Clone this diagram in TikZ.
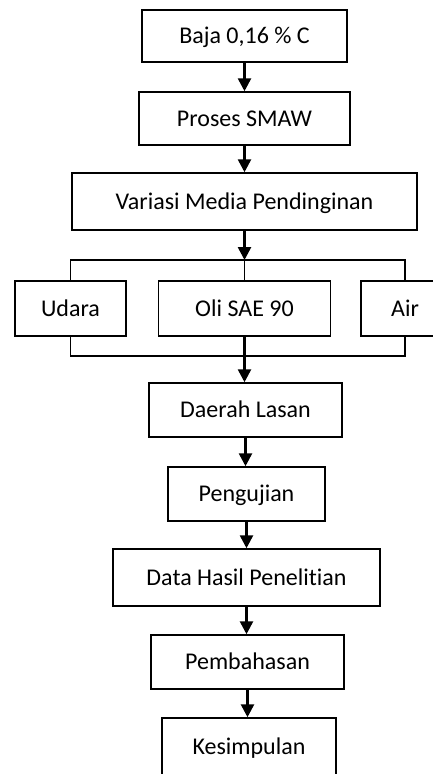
\documentclass[tikz,border=0pt]{standalone}
\usepackage{fontspec}
\setmainfont{Carlito}[Ligatures=NoCommon]
\usetikzlibrary{arrows.meta}

\begin{document}
\begin{tikzpicture}[x=1pt, y=-1pt,
    box/.style={draw, line width=1.5pt, minimum height=#1, inner sep=0pt,
        font=\fontsize{24}{28}\selectfont, text height=15.4pt, text depth=0pt},
    box/.default=54pt,
    flow/.style={line width=2.6pt, -{Triangle[length=13pt, width=13pt]}},
    branch/.style={line width=1.4pt}]
    \useasboundingbox (0,0) rectangle (433,774);
    \clip (0,0) rectangle (433,774);

    \node[box=52pt, minimum width=205pt] (baja) at (244.5,36) {Baja 0,16 \% C};
    \node[box=53pt, minimum width=211pt] (proses) at (244.5,118.5) {Proses SMAW};
    \node[box=57pt, minimum width=345pt] (variasi) at (244.5,201.5) {Variasi Media Pendinginan};

    \node[box=55pt, minimum width=111pt] (udara) at (70.5,308.5) {Udara};
    \node[box=55pt, minimum width=172pt] (oli) at (244.5,308.5) {Oli SAE 90};
    \node[box=55pt, minimum width=88pt] (air) at (405,308.5) {Air};

    \node[box, minimum width=193pt] (daerah) at (245.5,410) {Daerah Lasan};
    \node[box, minimum width=157pt] (pengujian) at (246.5,494) {Pengujian};
    \node[box=57pt, minimum width=267pt] (data) at (246.5,577.5) {Data Hasil Penelitian};
    \node[box, minimum width=193pt] (pembahasan) at (247.5,662) {Pembahasan};
    \node[box=58pt, minimum width=174pt] (kesimpulan) at (249,747) {Kesimpulan};

    \coordinate (split) at (244.5,260);
    \coordinate (join) at (244.5,356);

    \draw[flow] (baja.south) -- (proses.north);
    \draw[flow] (proses.south) -- (variasi.north);
    \draw[flow] (variasi.south) -- (split);

    \draw[branch] (udara.north) |- (split) -| (air.north);
    \draw[branch] (split) -- (oli.north);
    \draw[branch] (udara.south) |- (join) -| (air.south);

    \draw[flow] (oli.south) -- (oli.south |- daerah.north);
    \draw[flow] (daerah.south) -- (daerah.south |- pengujian.north);
    \draw[flow] (pengujian.south) -- (pengujian.south |- data.north);
    \draw[flow] (data.south) -- (data.south |- pembahasan.north);
    \draw[flow] (pembahasan.south) -- (pembahasan.south |- kesimpulan.north);

\end{tikzpicture}
\end{document}
